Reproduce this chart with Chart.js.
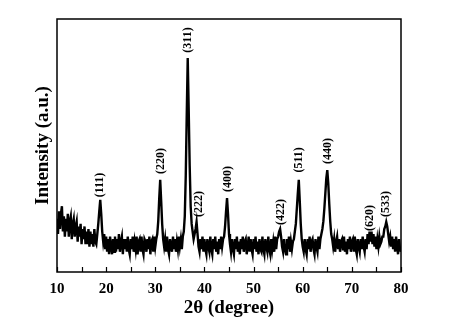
<!DOCTYPE html>
<html>
<head>
<meta charset="utf-8">
<script src="https://cdn.jsdelivr.net/npm/chart.js@4"></script>
<style>
  body { margin: 0; background: #fff; }
  #wrap { width: 460px; height: 323px; }
</style>
</head>
<body>
<div id="wrap"><canvas id="chart" width="460" height="323"></canvas></div>
<script>
"use strict";

// 2θ sampling (degrees) and intensity (a.u., 0-100 of the plot height).
const twoTheta = [
  10.0, 10.2, 10.4, 10.6, 10.8, 11.0, 11.2, 11.4, 11.6, 11.8,
  12.0, 12.2, 12.4, 12.6, 12.8, 13.0, 13.2, 13.4, 13.6, 13.8,
  14.0, 14.2, 14.4, 14.6, 14.8, 15.0, 15.2, 15.4, 15.6, 15.8,
  16.0, 16.2, 16.4, 16.6, 16.8, 17.0, 17.2, 17.4, 17.6, 17.8,
  18.0, 18.2, 18.4, 18.6, 18.8, 19.0, 19.2, 19.4, 19.6, 19.8,
  20.0, 20.2, 20.4, 20.6, 20.8, 21.0, 21.2, 21.4, 21.6, 21.8,
  22.0, 22.2, 22.4, 22.6, 22.8, 23.0, 23.2, 23.4, 23.6, 23.8,
  24.0, 24.2, 24.4, 24.6, 24.8, 25.0, 25.2, 25.4, 25.6, 25.8,
  26.0, 26.2, 26.4, 26.6, 26.8, 27.0, 27.2, 27.4, 27.6, 27.8,
  28.0, 28.2, 28.4, 28.6, 28.8, 29.0, 29.2, 29.4, 29.6, 29.8,
  30.0, 30.2, 30.4, 30.6, 30.8, 31.0, 31.2, 31.4, 31.6, 31.8,
  32.0, 32.2, 32.4, 32.6, 32.8, 33.0, 33.2, 33.4, 33.6, 33.8,
  34.0, 34.2, 34.4, 34.6, 34.8, 35.0, 35.2, 35.4, 35.6, 35.8,
  36.0, 36.2, 36.4, 36.6, 36.8, 37.0, 37.2, 37.4, 37.6, 37.8,
  38.0, 38.2, 38.4, 38.6, 38.8, 39.0, 39.2, 39.4, 39.6, 39.8,
  40.0, 40.2, 40.4, 40.6, 40.8, 41.0, 41.2, 41.4, 41.6, 41.8,
  42.0, 42.2, 42.4, 42.6, 42.8, 43.0, 43.2, 43.4, 43.6, 43.8,
  44.0, 44.2, 44.4, 44.6, 44.8, 45.0, 45.2, 45.4, 45.6, 45.8,
  46.0, 46.2, 46.4, 46.6, 46.8, 47.0, 47.2, 47.4, 47.6, 47.8,
  48.0, 48.2, 48.4, 48.6, 48.8, 49.0, 49.2, 49.4, 49.6, 49.8,
  50.0, 50.2, 50.4, 50.6, 50.8, 51.0, 51.2, 51.4, 51.6, 51.8,
  52.0, 52.2, 52.4, 52.6, 52.8, 53.0, 53.2, 53.4, 53.6, 53.8,
  54.0, 54.2, 54.4, 54.6, 54.8, 55.0, 55.2, 55.4, 55.6, 55.8,
  56.0, 56.2, 56.4, 56.6, 56.8, 57.0, 57.2, 57.4, 57.6, 57.8,
  58.0, 58.2, 58.4, 58.6, 58.8, 59.0, 59.2, 59.4, 59.6, 59.8,
  60.0, 60.2, 60.4, 60.6, 60.8, 61.0, 61.2, 61.4, 61.6, 61.8,
  62.0, 62.2, 62.4, 62.6, 62.8, 63.0, 63.2, 63.4, 63.6, 63.8,
  64.0, 64.2, 64.4, 64.6, 64.8, 65.0, 65.2, 65.4, 65.6, 65.8,
  66.0, 66.2, 66.4, 66.6, 66.8, 67.0, 67.2, 67.4, 67.6, 67.8,
  68.0, 68.2, 68.4, 68.6, 68.8, 69.0, 69.2, 69.4, 69.6, 69.8,
  70.0, 70.2, 70.4, 70.6, 70.8, 71.0, 71.2, 71.4, 71.6, 71.8,
  72.0, 72.2, 72.4, 72.6, 72.8, 73.0, 73.2, 73.4, 73.6, 73.8,
  74.0, 74.2, 74.4, 74.6, 74.8, 75.0, 75.2, 75.4, 75.6, 75.8,
  76.0, 76.2, 76.4, 76.6, 76.8, 77.0, 77.2, 77.4, 77.6, 77.8,
  78.0, 78.2, 78.4, 78.6, 78.8, 79.0, 79.2, 79.4, 79.6, 79.8,
  80.0,
];

const intensity = [
  21, 15, 24, 17, 23, 26, 16, 22, 14, 21,
  16, 23, 14, 20, 22, 13, 19, 21, 14, 18,
  20, 12, 18, 14, 19, 11, 17, 13, 18, 11,
  16, 11, 17, 10, 16, 11, 15, 10, 17, 12,
  11, 15, 19, 24, 28.5, 23, 16, 12, 15, 9,
  14, 8, 13, 7, 14, 10, 7, 13, 8, 14,
  8, 13, 9, 15, 8, 12, 14, 7, 13, 9,
  13, 8, 14, 9, 7, 13, 9, 14, 8, 12,
  9, 14, 7, 12, 13, 8, 14, 9, 7, 13,
  12, 8, 13, 9, 14, 7, 12, 13, 8, 14,
  10, 13, 15, 20, 29, 36.4, 28, 19, 13, 10,
  13, 8, 14, 9, 7, 13, 10, 8, 14, 9,
  13, 8, 12, 9, 14, 10, 13, 9, 14, 16,
  22, 38, 62, 84.6, 64, 42, 26, 19, 16, 13,
  15, 17, 19.8, 15, 10, 8, 13, 9, 14, 8,
  13, 9, 7, 13, 10, 8, 14, 9, 7, 13,
  9, 14, 8, 12, 7, 13, 9, 14, 10, 13,
  14, 18, 24, 29.2, 23, 15, 11, 8, 13, 9,
  7, 13, 9, 14, 8, 12, 7, 13, 9, 14,
  8, 12, 13, 7, 10, 14, 8, 13, 9, 7,
  13, 9, 14, 8, 12, 7, 13, 9, 8, 14,
  9, 7, 13, 10, 8, 14, 9, 7, 13, 9,
  12, 8, 14, 9, 13, 14, 16, 17, 14, 10,
  8, 13, 9, 7, 13, 9, 14, 8, 12, 9,
  12, 13, 16, 19, 25, 31, 36.4, 28, 19, 13,
  10, 8, 13, 9, 7, 13, 9, 14, 8, 12,
  13, 9, 7, 13, 10, 8, 14, 9, 13, 15,
  17, 20, 25, 31, 37, 40.3, 35, 27, 20, 15,
  13, 10, 13, 8, 12, 14, 9, 13, 8, 12,
  13, 9, 14, 8, 12, 7, 13, 9, 14, 8,
  12, 13, 8, 14, 9, 7, 13, 10, 8, 13,
  9, 14, 10, 8, 13, 9, 15, 11, 16, 12,
  16, 11, 15, 10, 14, 9, 13, 10, 14, 11,
  12, 14, 14, 17, 18, 19.8, 18, 15, 12, 14,
  10, 14, 9, 13, 8, 14, 10, 7, 13, 9,
  8,
];

// Miller index annotations: label text, 2θ of the label and its height (same units as intensity).
const hklLabels = ["(111)", "(220)", "(311)", "(222)", "(400)", "(422)", "(511)", "(440)", "(620)", "(533)"];
const hklTheta  = [18.7, 31.2, 36.6, 38.8, 44.7, 55.6, 59.3, 65.2, 73.6, 77.0];
const hklHeight = [34.4, 43.9, 91.7, 26.9, 36.8, 23.7, 44.3, 47.8, 21.3, 26.9];

const xTicks = [10, 20, 30, 40, 50, 60, 70, 80];
const xMinorTicks = [15, 25, 35, 45, 55, 65, 75];

const SERIF = "'Liberation Serif', 'DejaVu Serif', serif";

// Frame, inward ticks and the hkl labels.
const decor = {
  id: "decor",
  afterDatasetsDraw(chart) {
    const { ctx, chartArea: a, scales: { x, y } } = chart;
    ctx.save();
    ctx.strokeStyle = "#000";
    ctx.lineWidth = 1.5;
    ctx.strokeRect(a.left, a.top, a.right - a.left, a.bottom - a.top);

    ctx.lineWidth = 1.2;
    ctx.beginPath();
    for (const t of xTicks.concat(xMinorTicks)) {
      const px = Math.round(x.getPixelForValue(t)) + 0.5;
      ctx.moveTo(px, a.bottom);
      ctx.lineTo(px, a.bottom - 5);
    }
    ctx.stroke();

    ctx.fillStyle = "#000";
    ctx.font = "bold 12px " + SERIF;
    ctx.textAlign = "center";
    ctx.textBaseline = "middle";
    hklLabels.forEach((txt, i) => {
      ctx.save();
      ctx.translate(x.getPixelForValue(hklTheta[i]), y.getPixelForValue(hklHeight[i]));
      ctx.rotate(-Math.PI / 2);
      ctx.fillText(txt, 0, 0);
      ctx.restore();
    });
    ctx.restore();
  },
};

new Chart(document.getElementById("chart"), {
  type: "line",
  data: {
    labels: twoTheta,
    datasets: [{
      data: intensity,
      borderColor: "#000",
      borderWidth: 2.4,
      pointRadius: 0,
      tension: 0,
    }],
  },
  options: {
    responsive: false,
    animation: false,
    layout: { padding: { top: 19, right: 59, left: 0, bottom: 0 } },
    plugins: { legend: { display: false }, tooltip: { enabled: false } },
    scales: {
      x: {
        type: "linear",
        min: 10,
        max: 80,
        afterFit: (s) => { s.height = 51; },
        grid: { display: false },
        border: { display: false },
        ticks: {
          stepSize: 10,
          padding: 0,
          color: "#000",
          font: { family: SERIF, size: 15, weight: "bold" },
        },
        title: {
          display: true,
          text: "2θ (degree)",
          color: "#000",
          font: { family: SERIF, size: 19, weight: "bold" },
          padding: { top: 0, bottom: 4 },
        },
      },
      y: {
        min: 0,
        max: 100,
        afterFit: (s) => { s.width = 57; },
        grid: { display: false },
        border: { display: false },
        ticks: { display: false },
        title: {
          display: true,
          text: "Intensity (a.u.)",
          color: "#000",
          font: { family: SERIF, size: 19, weight: "bold" },
          padding: { top: 32, bottom: 0 },
        },
      },
    },
  },
  plugins: [decor],
});
</script>
</body>
</html>
